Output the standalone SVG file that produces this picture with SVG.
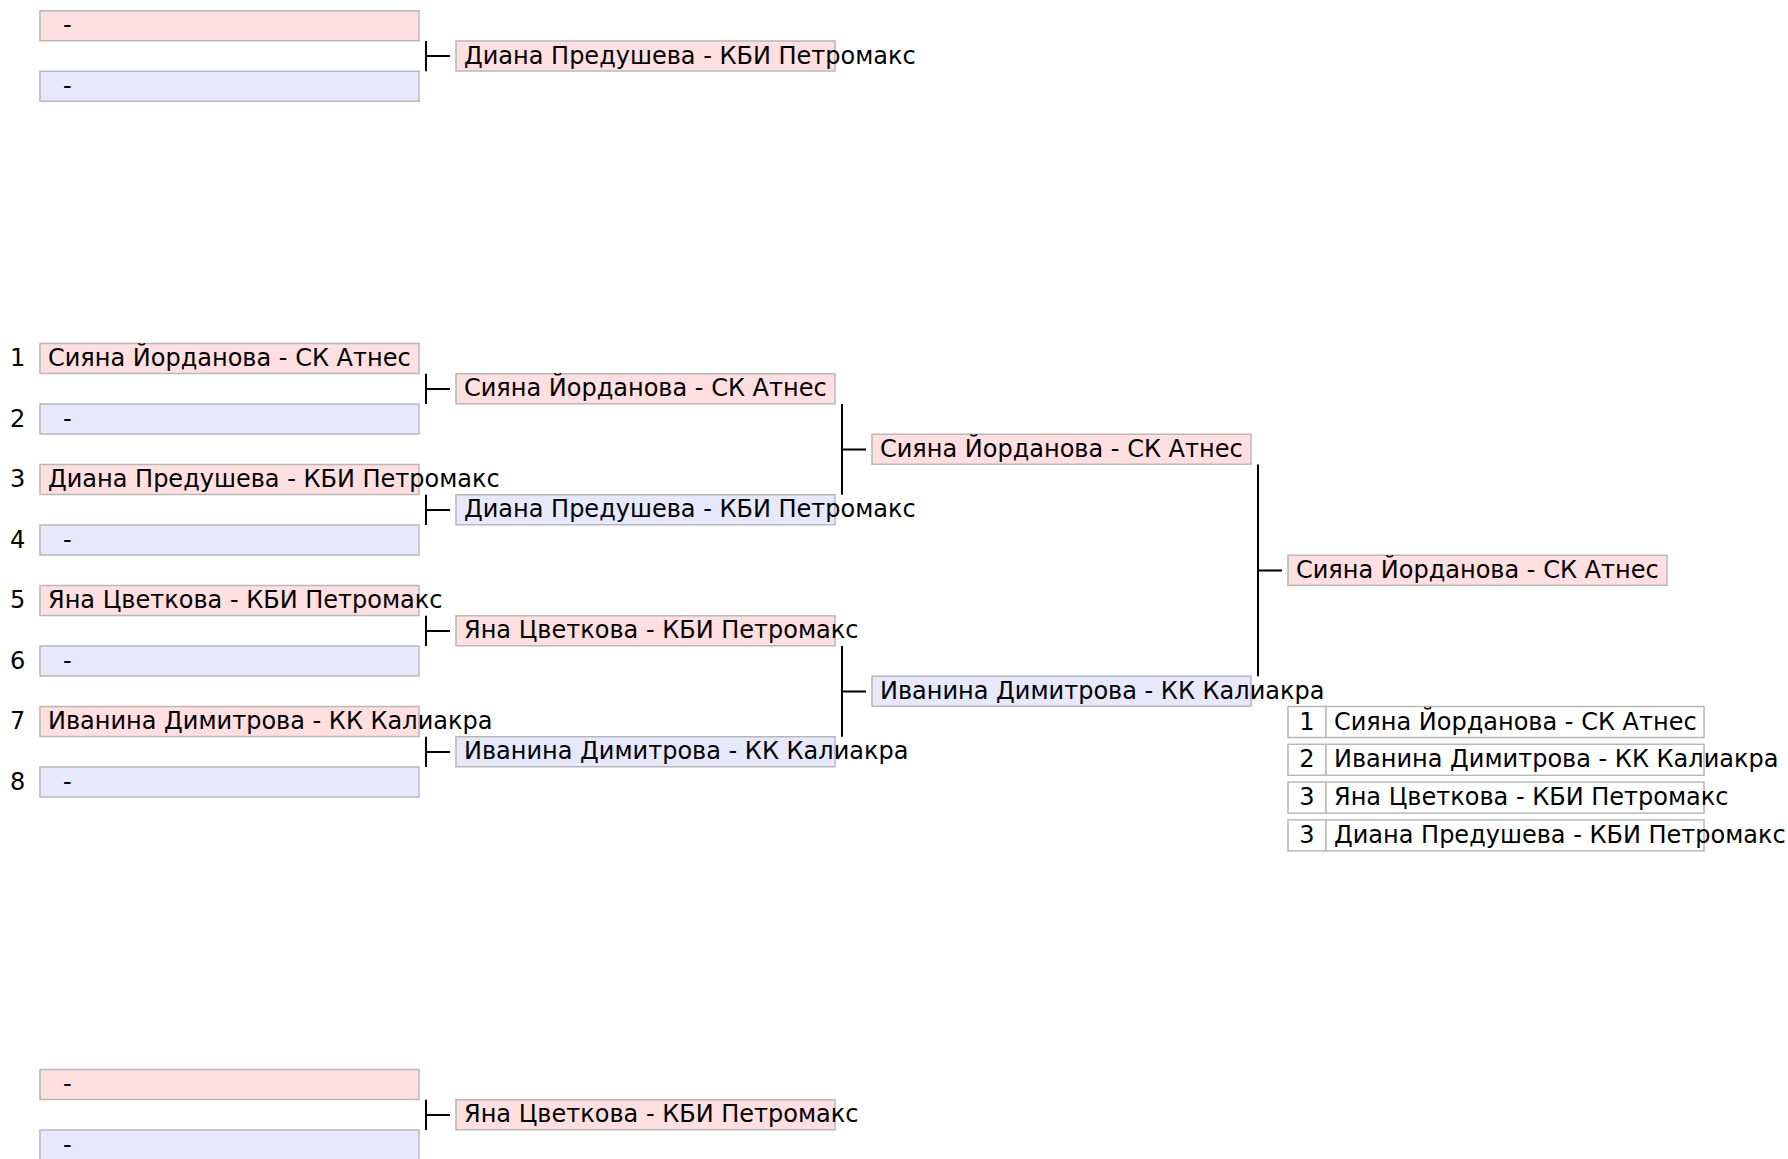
<svg xmlns="http://www.w3.org/2000/svg" width="1788" height="1159" viewBox="0 0 1788 1159">
<style>
text{font-family:"DejaVu Sans","Noto Sans",sans-serif;font-size:24px;fill:#000}
.p{fill:#ffdfdf;stroke:#b8b8b8;stroke-width:1.5}
.l{fill:#e8e8fd;stroke:#b8b8b8;stroke-width:1.5}
.w{fill:#fff;stroke:#b8b8b8;stroke-width:1.5}
.c{fill:none;stroke:#000;stroke-width:2}
.n{text-anchor:middle}
</style>
<rect width="1788" height="1159" fill="#fff"/>

<!-- Top section -->
<g id="top-a"><rect class="p" x="40" y="10.75" width="379" height="30"/><text x="63" y="33.25">-</text></g>
<g id="top-b"><rect class="l" x="40" y="71.25" width="379" height="30"/><text x="63" y="93.75">-</text></g>
<g id="top-w"><rect class="p" x="456" y="41" width="379" height="30"/><text x="464" y="63.5">Диана Предушева - КБИ Петромакс</text></g>

<!-- Seed numbers -->
<g id="seeds">
<text x="10" y="366">1</text>
<text x="10" y="426.5">2</text>
<text x="10" y="487">3</text>
<text x="10" y="547.5">4</text>
<text x="10" y="608">5</text>
<text x="10" y="668.5">6</text>
<text x="10" y="729">7</text>
<text x="10" y="789.5">8</text>
</g>

<!-- Round 1 -->
<g id="r1-1"><rect class="p" x="40" y="343.5" width="379" height="30"/><text x="48" y="366">Сияна Йорданова - СК Атнес</text></g>
<g id="r1-2"><rect class="l" x="40" y="404" width="379" height="30"/><text x="63" y="426.5">-</text></g>
<g id="r1-3"><rect class="p" x="40" y="464.5" width="379" height="30"/><text x="48" y="487">Диана Предушева - КБИ Петромакс</text></g>
<g id="r1-4"><rect class="l" x="40" y="525" width="379" height="30"/><text x="63" y="547.5">-</text></g>
<g id="r1-5"><rect class="p" x="40" y="585.5" width="379" height="30"/><text x="48" y="608">Яна Цветкова - КБИ Петромакс</text></g>
<g id="r1-6"><rect class="l" x="40" y="646" width="379" height="30"/><text x="63" y="668.5">-</text></g>
<g id="r1-7"><rect class="p" x="40" y="706.5" width="379" height="30"/><text x="48" y="729">Иванина Димитрова - КК Калиакра</text></g>
<g id="r1-8"><rect class="l" x="40" y="767" width="379" height="30"/><text x="63" y="789.5">-</text></g>

<!-- Round 2 -->
<g id="r2-1"><rect class="p" x="456" y="373.75" width="379" height="30"/><text x="464" y="396.25">Сияна Йорданова - СК Атнес</text></g>
<g id="r2-2"><rect class="l" x="456" y="494.75" width="379" height="30"/><text x="464" y="517.25">Диана Предушева - КБИ Петромакс</text></g>
<g id="r2-3"><rect class="p" x="456" y="615.75" width="379" height="30"/><text x="464" y="638.25">Яна Цветкова - КБИ Петромакс</text></g>
<g id="r2-4"><rect class="l" x="456" y="736.75" width="379" height="30"/><text x="464" y="759.25">Иванина Димитрова - КК Калиакра</text></g>

<!-- Round 3 -->
<g id="r3-1"><rect class="p" x="872" y="434.25" width="379" height="30"/><text x="880" y="456.75">Сияна Йорданова - СК Атнес</text></g>
<g id="r3-2"><rect class="l" x="872" y="676.25" width="379" height="30"/><text x="880" y="698.75">Иванина Димитрова - КК Калиакра</text></g>

<!-- Final winner -->
<g id="winner"><rect class="p" x="1288" y="555.25" width="379" height="30"/><text x="1296" y="577.75">Сияна Йорданова - СК Атнес</text></g>

<!-- Ranking table -->
<g id="rank-1"><rect class="w" x="1288" y="706.5" width="38" height="31"/><rect class="w" x="1326" y="706.5" width="378" height="31"/><text class="n" x="1307" y="729.5">1</text><text x="1334" y="729.5">Сияна Йорданова - СК Атнес</text></g>
<g id="rank-2"><rect class="w" x="1288" y="744.3" width="38" height="31"/><rect class="w" x="1326" y="744.3" width="378" height="31"/><text class="n" x="1307" y="767.3">2</text><text x="1334" y="767.3">Иванина Димитрова - КК Калиакра</text></g>
<g id="rank-3a"><rect class="w" x="1288" y="782.1" width="38" height="31"/><rect class="w" x="1326" y="782.1" width="378" height="31"/><text class="n" x="1307" y="805.1">3</text><text x="1334" y="805.1">Яна Цветкова - КБИ Петромакс</text></g>
<g id="rank-3b"><rect class="w" x="1288" y="819.9" width="38" height="31"/><rect class="w" x="1326" y="819.9" width="378" height="31"/><text class="n" x="1307" y="842.9">3</text><text x="1334" y="842.9">Диана Предушева - КБИ Петромакс</text></g>

<!-- Bottom section -->
<g id="bot-a"><rect class="p" x="40" y="1069.5" width="379" height="30"/><text x="63" y="1092">-</text></g>
<g id="bot-b"><rect class="l" x="40" y="1130" width="379" height="30"/><text x="63" y="1152.5">-</text></g>
<g id="bot-w"><rect class="p" x="456" y="1099.75" width="379" height="30"/><text x="464" y="1122.25">Яна Цветкова - КБИ Петромакс</text></g>

<!-- Connectors -->
<g id="connectors">
<path class="c" d="M426 41V71.25M426 56.1H450"/>
<path class="c" d="M426 373.75V404M426 388.9H450"/>
<path class="c" d="M426 494.75V525M426 509.9H450"/>
<path class="c" d="M426 615.75V646M426 630.9H450"/>
<path class="c" d="M426 736.75V767M426 751.9H450"/>
<path class="c" d="M426 1099.75V1130M426 1114.9H450"/>
<path class="c" d="M842 404V494.75M842 449.4H866"/>
<path class="c" d="M842 646V736.75M842 691.4H866"/>
<path class="c" d="M1258 464.5V676.25M1258 570.4H1282"/>
</g>
</svg>
